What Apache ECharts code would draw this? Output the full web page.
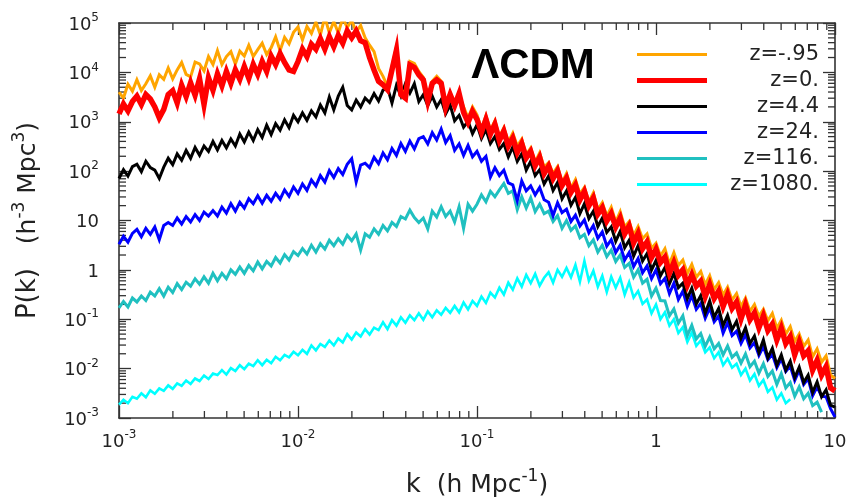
<!DOCTYPE html>
<html>
<head>
<meta charset="utf-8">
<script src="https://cdn.jsdelivr.net/npm/echarts@6/dist/echarts.min.js"></script>
<style>
  html, body { margin: 0; padding: 0; background: #ffffff; }
  #chart { width: 852px; height: 503px; }
</style>
</head>
<body>
<div id="chart"></div>
<script>
// Wavenumber grid, log10 k (h Mpc^-1)
const LOG_K = [-3,-2.975,-2.95,-2.925,-2.9,-2.875,-2.85,-2.825,-2.8,-2.775,-2.75,-2.725,-2.7,-2.675,-2.65,-2.625,-2.6,-2.575,-2.55,-2.525,-2.5,-2.475,-2.45,-2.425,-2.4,-2.375,-2.35,-2.325,-2.3,-2.275,-2.25,-2.225,-2.2,-2.175,-2.15,-2.125,-2.1,-2.075,-2.05,-2.025,-2,-1.975,-1.95,-1.925,-1.9,-1.875,-1.85,-1.825,-1.8,-1.775,-1.75,-1.725,-1.7,-1.675,-1.65,-1.625,-1.6,-1.575,-1.55,-1.525,-1.5,-1.475,-1.45,-1.425,-1.4,-1.375,-1.35,-1.325,-1.3,-1.275,-1.25,-1.225,-1.2,-1.175,-1.15,-1.125,-1.1,-1.075,-1.05,-1.025,-1,-0.975,-0.95,-0.925,-0.9,-0.875,-0.85,-0.825,-0.8,-0.775,-0.75,-0.725,-0.7,-0.675,-0.65,-0.625,-0.6,-0.575,-0.55,-0.525,-0.5,-0.475,-0.45,-0.425,-0.4,-0.375,-0.35,-0.325,-0.3,-0.275,-0.25,-0.225,-0.2,-0.175,-0.15,-0.125,-0.1,-0.075,-0.05,-0.025,0,0.025,0.05,0.075,0.1,0.125,0.15,0.175,0.2,0.225,0.25,0.275,0.3,0.325,0.35,0.375,0.4,0.425,0.45,0.475,0.5,0.525,0.55,0.575,0.6,0.625,0.65,0.675,0.7,0.725,0.75,0.775,0.8,0.825,0.85,0.875,0.9,0.925,0.95,0.975,1];

// Power spectra, log10 P(k) in h^-3 Mpc^3, one array per redshift
const LOGP_Z_M095 = [3.60,3.48,3.76,3.62,3.85,3.63,3.77,3.93,3.70,3.95,3.86,4.09,3.87,4.05,4.20,3.96,3.91,4.21,4.17,4.03,4.32,4.16,4.44,4.16,4.32,4.42,4.17,4.43,4.33,4.55,4.32,4.46,4.59,4.36,4.50,4.72,4.44,4.71,4.58,4.81,4.92,4.66,4.93,4.79,5.02,4.76,5.12,4.80,5.03,4.80,5.10,4.91,5.05,4.82,4.95,4.70,4.55,4.42,4.08,3.92,3.72,4.12,4.52,3.62,3.62,4.22,4.18,4.02,3.90,3.50,3.82,3.92,3.82,3.41,3.59,3.38,3.55,3.30,3.08,3.30,3.14,2.86,3.12,2.83,3.02,2.70,2.88,2.59,2.77,2.51,2.65,2.33,2.47,2.18,2.37,2.08,2.17,1.95,2.09,1.77,1.95,1.66,1.83,1.54,1.67,1.38,1.56,1.22,1.36,1.09,1.27,0.97,1.18,0.87,0.98,0.70,0.88,0.63,0.73,0.44,0.54,0.28,0.43,0.12,0.35,0.09,0.20,-0.07,0.11,-0.15,-0.03,-0.30,-0.12,-0.40,-0.26,-0.51,-0.35,-0.61,-0.48,-0.74,-0.57,-0.84,-0.70,-0.94,-0.80,-1.03,-0.88,-1.18,-1.02,-1.30,-1.15,-1.45,-1.30,-1.55,-1.42,-1.76,-1.60,-1.87,-1.74,-2.13,-2.20];
const LOGP_Z_0 = [3.16,3.36,3.22,3.41,3.52,3.35,3.55,3.46,3.30,3.08,3.25,3.55,3.63,3.38,3.74,3.51,3.79,3.54,3.87,3.35,3.89,3.64,3.97,3.73,4.02,3.78,4.05,3.86,4.12,3.88,4.16,3.96,4.22,4.02,4.33,4.16,4.38,4.20,4.05,4.02,4.22,4.47,4.32,4.57,4.47,4.68,4.47,4.72,4.52,4.75,4.59,4.84,4.70,4.84,4.64,4.60,4.30,4.05,3.82,3.75,3.65,4.05,4.45,3.55,3.48,4.15,4.10,3.95,3.85,3.42,3.78,3.85,3.78,3.29,3.55,3.33,3.57,3.19,2.99,3.21,3.05,2.79,3.05,2.75,2.95,2.62,2.81,2.51,2.67,2.38,2.56,2.27,2.40,2.11,2.28,1.95,2.10,1.85,2.01,1.71,1.86,1.57,1.72,1.42,1.59,1.30,1.46,1.13,1.26,0.99,1.14,0.87,1.05,0.73,0.89,0.55,0.74,0.43,0.57,0.25,0.42,0.15,0.26,-0.07,0.15,-0.11,0.00,-0.31,-0.10,-0.33,-0.23,-0.54,-0.30,-0.58,-0.43,-0.74,-0.50,-0.78,-0.65,-0.99,-0.71,-1.01,-0.87,-1.17,-0.93,-1.23,-1.10,-1.42,-1.18,-1.49,-1.35,-1.72,-1.46,-1.74,-1.64,-2.03,-1.83,-2.13,-1.96,-2.39,-2.45];
const LOGP_Z_4P4 = [1.85,2.03,1.90,2.09,2.14,1.99,2.20,2.07,2.02,1.85,2.08,2.26,2.13,2.35,2.22,2.42,2.26,2.48,2.32,2.51,2.40,2.60,2.43,2.62,2.47,2.65,2.51,2.75,2.59,2.79,2.62,2.84,2.68,2.93,2.74,2.96,2.83,3.04,2.88,3.13,3.00,3.18,3.03,3.22,3.10,3.34,3.18,3.50,3.24,3.52,3.70,3.33,3.24,3.44,3.30,3.48,3.39,3.57,3.42,3.64,3.69,3.38,3.74,3.52,3.77,3.58,3.77,3.41,3.55,3.33,3.52,3.30,3.45,3.16,3.34,3.02,3.13,2.89,3.01,2.76,2.94,2.66,2.84,2.56,2.70,2.44,2.56,2.29,2.49,2.20,2.35,2.02,2.20,1.91,2.03,1.74,1.90,1.61,1.77,1.44,1.60,1.31,1.47,1.14,1.34,1.04,1.19,0.88,1.05,0.76,0.87,0.58,0.78,0.45,0.60,0.28,0.49,0.18,0.33,0.00,0.19,-0.12,0.05,-0.28,-0.07,-0.36,-0.27,-0.58,-0.37,-0.69,-0.52,-0.88,-0.63,-0.96,-0.78,-1.13,-0.92,-1.21,-1.04,-1.38,-1.17,-1.49,-1.34,-1.67,-1.42,-1.78,-1.59,-1.93,-1.72,-2.03,-1.85,-2.18,-1.97,-2.28,-2.13,-2.48,-2.27,-2.57,-2.43,-2.74,-2.78];
const LOGP_Z_24 = [0.52,0.68,0.56,0.74,0.82,0.67,0.84,0.72,0.87,0.61,0.90,0.96,0.90,1.05,0.93,1.08,0.97,1.12,1.00,1.17,1.09,1.20,1.09,1.27,1.15,1.34,1.19,1.37,1.25,1.44,1.34,1.50,1.35,1.51,1.39,1.55,1.43,1.62,1.49,1.68,1.55,1.74,1.61,1.82,1.70,1.91,1.78,2.01,1.87,2.05,1.93,2.14,2.25,1.78,2.12,2.16,2.07,2.28,2.15,2.37,2.23,2.46,2.32,2.56,2.40,2.61,2.45,2.66,2.70,2.55,2.78,2.63,2.85,2.58,2.72,2.42,2.55,2.32,2.52,2.29,2.40,2.20,2.30,1.88,2.07,1.91,2.02,1.76,1.72,1.40,1.80,1.60,1.70,1.52,1.67,1.42,1.37,1.10,1.36,1.16,1.23,0.98,1.11,0.89,1.01,0.75,0.90,0.64,0.77,0.48,0.61,0.35,0.50,0.20,0.35,0.07,0.23,-0.06,0.08,-0.18,0.00,-0.28,-0.17,-0.48,-0.27,-0.60,-0.43,-0.74,-0.52,-0.80,-0.68,-0.98,-0.77,-1.05,-0.93,-1.28,-1.07,-1.33,-1.24,-1.49,-1.31,-1.58,-1.47,-1.73,-1.55,-1.82,-1.71,-1.98,-1.80,-2.06,-1.95,-2.24,-2.03,-2.32,-2.20,-2.55,-2.37,-2.56,-2.57,-2.81,-2.98];
const LOGP_Z_116 = [-0.77,-0.64,-0.75,-0.57,-0.65,-0.53,-0.62,-0.45,-0.53,-0.38,-0.53,-0.35,-0.46,-0.28,-0.40,-0.25,-0.33,-0.18,-0.29,-0.14,-0.27,-0.07,-0.22,-0.07,-0.18,0.00,-0.09,0.06,-0.07,0.09,-0.02,0.16,0.02,0.17,0.08,0.25,0.14,0.31,0.20,0.37,0.29,0.43,0.32,0.50,0.36,0.53,0.42,0.60,0.49,0.63,0.52,0.70,0.59,0.73,0.40,0.73,0.66,0.83,0.72,0.90,0.79,0.96,0.88,1.08,1.03,1.21,1.06,0.96,1.05,0.83,1.19,1.07,1.28,1.08,1.19,0.97,1.28,0.84,1.33,1.19,1.33,1.52,1.38,1.59,1.48,1.62,1.75,1.55,1.60,1.22,1.48,1.25,1.46,1.18,1.33,1.14,1.19,0.98,1.10,0.84,1.00,0.80,0.89,0.65,0.72,0.49,0.61,0.36,0.50,0.27,0.40,0.17,0.30,0.05,0.13,-0.15,0.00,-0.27,-0.19,-0.53,-0.37,-0.62,-0.63,-0.93,-0.79,-1.08,-0.93,-1.33,-1.12,-1.40,-1.29,-1.55,-1.36,-1.60,-1.49,-1.72,-1.54,-1.77,-1.68,-1.89,-1.70,-1.96,-1.85,-2.09,-1.90,-2.16,-2.05,-2.32,-2.10,-2.39,-2.28,-2.56,-2.37,-2.61,-2.50,-2.75,-2.68,-2.88];
const LOGP_Z_1080 = [-2.73,-2.63,-2.70,-2.57,-2.61,-2.50,-2.58,-2.44,-2.51,-2.40,-2.45,-2.34,-2.41,-2.30,-2.35,-2.24,-2.31,-2.20,-2.25,-2.14,-2.21,-2.10,-2.13,-2.03,-2.12,-1.99,-2.05,-1.93,-2.01,-1.90,-1.95,-1.83,-1.93,-1.82,-1.89,-1.76,-1.83,-1.72,-1.77,-1.66,-1.73,-1.62,-1.70,-1.53,-1.63,-1.50,-1.56,-1.43,-1.53,-1.39,-1.47,-1.30,-1.41,-1.27,-1.35,-1.20,-1.31,-1.17,-1.22,-1.06,-1.20,-1.02,-1.13,-0.96,-1.07,-0.92,-1.02,-0.88,-1.01,-0.84,-0.96,-0.82,-0.91,-0.77,-0.87,-0.73,-0.86,-0.66,-0.80,-0.63,-0.73,-0.54,-0.67,-0.46,-0.56,-0.36,-0.50,-0.26,-0.40,-0.17,-0.34,-0.10,-0.27,-0.08,-0.32,-0.16,-0.05,-0.26,0.00,-0.14,0.04,-0.15,0.10,-0.24,0.18,-0.22,-0.02,-0.34,-0.12,-0.45,-0.14,-0.36,-0.16,-0.50,-0.25,-0.56,-0.43,-0.69,-0.60,-0.88,-0.70,-1.00,-0.86,-1.13,-1.00,-1.28,-1.16,-1.46,-1.27,-1.54,-1.43,-1.67,-1.57,-1.79,-1.67,-1.93,-1.80,-1.98,-1.90,-2.13,-2.00,-2.24,-2.11,-2.35,-2.23,-2.47,-2.38,-2.63,-2.50,-2.70,-2.62];

const SERIES_NAMES = ['z=-.95', 'z=0.', 'z=4.4', 'z=24.', 'z=116.', 'z=1080.'];
const SERIES_LOGP = [LOGP_Z_M095, LOGP_Z_0, LOGP_Z_4P4, LOGP_Z_24, LOGP_Z_116, LOGP_Z_1080];
const SERIES_COLORS = ['#ffa500', '#ff0000', '#000000', '#0000ff', '#20c0c0', '#00ffff'];
const SERIES_WIDTHS = [3, 5.5, 3, 3, 3, 2.6];
const LEGEND_THICKNESS = [3, 5, 3, 3, 3, 3];
// drawing order, bottom to top
const DRAW_ORDER = [5, 4, 3, 2, 0, 1];

const K_MIN = 1e-3, K_MAX = 10;
const P_MIN = 1e-3, P_MAX = 1e5;

const AXIS_COLOR = '#333333';
const TEXT_COLOR = '#222222';
const FONT = '"DejaVu Sans", Verdana, sans-serif';

function toPoints(logP) {
  return logP.map((v, i) => [Math.pow(10, LOG_K[i]), Math.pow(10, v)]);
}

function decadeLabel(value) {
  const e = Math.round(Math.log10(value));
  if (e === 0) return '{b|1}';
  if (e === 1) return '{b|10}';
  return '{b|10}{s|' + e + '}';
}

const tickRich = {
  b: { fontSize: 18, fontFamily: FONT, color: TEXT_COLOR, lineHeight: 22, verticalAlign: 'bottom' },
  s: { fontSize: 12, fontFamily: FONT, color: TEXT_COLOR, lineHeight: 12, verticalAlign: 'top' }
};

const titleRich = {
  a: { fontSize: 26, fontFamily: FONT, color: TEXT_COLOR, lineHeight: 30, verticalAlign: 'bottom' },
  u: { fontSize: 25, fontFamily: FONT, color: TEXT_COLOR, lineHeight: 30, verticalAlign: 'bottom' },
  us: { fontSize: 17, fontFamily: FONT, color: TEXT_COLOR, lineHeight: 17, verticalAlign: 'top' }
};

// minor ticks at 2..9 x 10^n
function minorValues(lo, hi) {
  const out = [];
  for (let n = lo; n < hi; n++) {
    for (let m = 2; m <= 9; m++) out.push(m * Math.pow(10, n));
  }
  return out;
}
const MINOR_K = minorValues(-3, 1);
const MINOR_P = minorValues(-3, 5);
const MINOR_LEN = 7;
const MAJOR_LEN = 12;

const tickStyle = { stroke: AXIS_COLOR, lineWidth: 1.3 };

const lineSeries = DRAW_ORDER.map(idx => ({
  name: SERIES_NAMES[idx],
  type: 'line',
  data: toPoints(SERIES_LOGP[idx]),
  showSymbol: false,
  symbol: 'none',
  smooth: false,
  silent: true,
  clip: true,
  lineStyle: { color: SERIES_COLORS[idx], width: SERIES_WIDTHS[idx], join: 'miter' },
  itemStyle: { color: SERIES_COLORS[idx] },
  emphasis: { disabled: true },
  animation: false
}));

const minorTickSeries = [
  {
    type: 'custom',
    silent: true,
    animation: false,
    clip: false,
    data: MINOR_K.map(k => [k, 1]),
    renderItem: function (params, api) {
      const cs = params.coordSys;
      const x = api.coord([api.value(0), 1])[0];
      const yb = cs.y + cs.height, yt = cs.y;
      return {
        type: 'group',
        children: [
          { type: 'line', shape: { x1: x, y1: yb, x2: x, y2: yb - MINOR_LEN }, style: tickStyle },
          { type: 'line', shape: { x1: x, y1: yt, x2: x, y2: yt + MINOR_LEN }, style: tickStyle }
        ]
      };
    }
  },
  {
    type: 'custom',
    silent: true,
    animation: false,
    clip: false,
    data: MINOR_P.map(p => [1, p]),
    renderItem: function (params, api) {
      const cs = params.coordSys;
      const y = api.coord([1, api.value(1)])[1];
      const xl = cs.x, xr = cs.x + cs.width;
      return {
        type: 'group',
        children: [
          { type: 'line', shape: { x1: xl, y1: y, x2: xl + MINOR_LEN, y2: y }, style: tickStyle },
          { type: 'line', shape: { x1: xr, y1: y, x2: xr - MINOR_LEN, y2: y }, style: tickStyle }
        ]
      };
    }
  }
];

function logAxis(extra) {
  return Object.assign({
    type: 'log',
    logBase: 10,
    axisLine: { show: true, onZero: false, lineStyle: { color: AXIS_COLOR, width: 1.6 } },
    axisTick: { show: true, inside: true, length: MAJOR_LEN, lineStyle: { color: AXIS_COLOR, width: 1.3 } },
    splitLine: { show: false },
    minorTick: { show: false },
    minorSplitLine: { show: false }
  }, extra);
}

const chart = echarts.init(document.getElementById('chart'), null, { renderer: 'canvas' });

chart.setOption({
  backgroundColor: '#ffffff',
  animation: false,
  grid: { left: 119, top: 23, width: 716, height: 395, containLabel: false },
  xAxis: [
    logAxis({
      position: 'bottom',
      min: K_MIN, max: K_MAX,
      splitNumber: 4,
      axisLabel: { show: true, margin: 11, formatter: decadeLabel, rich: tickRich },
      name: '{a|k}{u|  (h Mpc}{us|-1}{u|)}',
      nameLocation: 'middle',
      nameGap: 50,
      nameTextStyle: { fontSize: 25, fontFamily: FONT, color: TEXT_COLOR, rich: titleRich }
    }),
    logAxis({
      position: 'top',
      min: K_MIN, max: K_MAX,
      splitNumber: 4,
      axisLabel: { show: false }
    })
  ],
  yAxis: [
    logAxis({
      position: 'left',
      min: P_MIN, max: P_MAX,
      splitNumber: 8,
      axisLabel: { show: true, margin: 20, formatter: decadeLabel, rich: tickRich },
      name: '{a|P(k)}{u|   (h}{us|-3}{u| Mpc}{us|3}{u|)}',
      nameLocation: 'middle',
      nameRotate: 90,
      nameGap: 78,
      nameTextStyle: { fontSize: 25, fontFamily: FONT, color: TEXT_COLOR, rich: titleRich }
    }),
    logAxis({
      position: 'right',
      min: P_MIN, max: P_MAX,
      splitNumber: 8,
      axisLabel: { show: false }
    })
  ],
  legend: {
    show: true,
    orient: 'vertical',
    left: 632,
    top: 39,
    itemWidth: 70,
    itemHeight: 24,
    itemGap: 5,
    symbolKeepAspect: true,
    selectedMode: false,
    data: SERIES_NAMES.map((n, i) => ({
      name: n,
      icon: 'path://M0,0H70V' + LEGEND_THICKNESS[i] + 'H0Z',
      itemStyle: { color: SERIES_COLORS[i] }
    })),
    formatter: name => '{t|' + name + '}',
    textStyle: {
      fontSize: 21,
      fontFamily: FONT,
      color: TEXT_COLOR,
      rich: {
        t: { width: 107, align: 'right', fontSize: 21, fontFamily: FONT, color: TEXT_COLOR, lineHeight: 24 }
      }
    }
  },
  graphic: [
    {
      type: 'text',
      x: 533,
      y: 66,
      silent: true,
      style: {
        text: 'ΛCDM',
        font: 'bold 42px "Liberation Sans", Arial, sans-serif',
        fill: '#000000',
        align: 'center',
        verticalAlign: 'middle',
        textAlign: 'center',
        textVerticalAlign: 'middle'
      }
    }
  ],
  series: lineSeries.concat(minorTickSeries)
});
</script>
</body>
</html>
